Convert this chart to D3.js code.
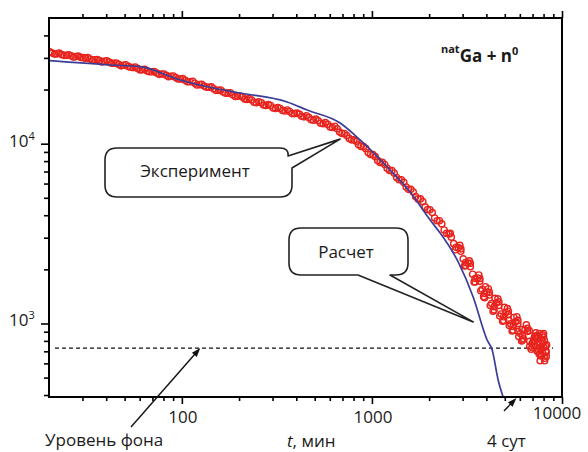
<!DOCTYPE html>
<html>
<head>
<meta charset="utf-8">
<script src="https://cdn.jsdelivr.net/npm/d3@7"></script>
<style>
  body { margin: 0; background: #fff; }
  text { font-family: "Open Sans", "Noto Sans", sans-serif; fill: #1a1a1a; }
</style>
</head>
<body>
<div class="chart"></div>
<script>
// расчет (blue curve)
const calcT = [20.2, 41.9, 60.3, 97.9, 146, 202, 358, 456, 680, 867, 1246, 1588, 2024, 2285, 2843, 3409, 4038, 4292, 4614, 4900];
const calcN = [28940, 27390, 26800, 22600, 20400, 19130, 17050, 15390, 13030, 10490, 7140, 5385, 3760, 3185, 2200, 1404, 809, 712, 485, 390];

// эксперимент (red circles)
const expT = [20.2, 21.4, 22.6, 24.0, 25.4, 26.9, 28.5, 30.2, 32.0, 33.9, 35.9, 38.0, 40.3, 42.7, 45.2, 47.9, 50.7, 53.7, 56.9, 60.3,
  63.8, 67.6, 71.6, 75.9, 80.4, 85.1, 90.2, 95.5, 101, 107, 114, 120, 127, 135, 143, 151, 160, 170, 180, 191,
  202, 214, 226, 240, 254, 269, 285, 302, 320, 339, 359, 380, 403, 427, 452, 479, 507, 537, 569, 603,
  638, 676, 716, 759, 804, 851, 902, 955, 1012, 1072, 1135, 1202, 1274, 1349, 1429, 1514, 1603, 1698, 1799, 1905,
  2018, 2138, 2265, 2399, 2541, 2692, 2851, 3020, 3199, 3388, 3589, 3802, 4027, 4266, 4519, 4786, 5070, 5370, 5689, 6026,
  6383, 6761, 7161, 7586, 7943,
  20.8, 22.0, 23.3, 24.7, 26.2, 27.7, 29.3, 31.1, 32.9, 34.9, 36.9, 39.1, 41.5, 43.9, 46.5, 49.3, 52.2, 55.3, 58.5, 62.0,
  65.7, 69.6, 73.7, 78.1, 82.7, 87.6, 92.8, 98.3, 104, 110, 117, 124, 131, 139, 147, 156, 165, 175, 185, 196,
  208, 220, 233, 247, 262, 277, 293, 311, 329, 349, 369, 391, 415, 439, 465, 493, 522, 553, 586, 620,
  657, 696, 737, 781, 827, 876, 928, 983, 1041, 1103, 1168, 1237, 1311, 1389, 1471, 1558, 1650, 1748, 1852, 1962,
  2078, 2201, 2331, 2469, 2616, 2771, 2935, 3109, 3293, 3488, 3694, 3913, 4145, 4390, 4650, 4925, 5218, 5527, 5854, 6201,
  6569, 6958, 7370, 7762,
  2938, 3112, 3296, 3491, 3698, 3917, 4150, 4395, 4656, 4932, 5224, 5534, 5861, 6209, 6577, 6966, 7379, 7816, 8035, 7586,
  7244, 6761, 6166, 5888, 5248, 7852, 7499, 7079, 8128, 8000, 7674, 8250,
  2585, 2739, 2901, 3073, 3255, 3448, 3652, 3868, 4097, 4340, 4597, 4870, 5158, 5464, 5788, 6131, 6494, 6879, 7287, 7718,
  8084, 8271, 8175, 7898, 7457, 7120, 6722, 6274, 5924, 5592, 5279, 4983, 4705, 4442, 4194, 3959, 3737,
  8200, 8100, 7900, 8300, 7700, 7400, 8000, 7600, 8250, 7200];
const expN = [32400, 31500, 31900, 31000, 31200, 30300, 30700, 30100, 30100, 29200, 29400, 28500, 28900, 28000, 28100, 27100, 27500, 26600, 26700, 25700,
  25900, 25100, 25200, 24300, 24400, 23600, 23800, 22900, 23000, 22100, 22200, 21200, 21400, 20600, 20700, 19800, 19900, 19100, 19200, 18300,
  18400, 17700, 17800, 17000, 17100, 16400, 16500, 15800, 15900, 15300, 15400, 14700, 14800, 14200, 14300, 13600, 13700, 13000, 13100, 12400,
  12500, 11600, 11400, 10700, 10500, 9860, 9640, 8930, 8690, 8050, 7870, 7300, 7080, 6490, 6300, 5740, 5570, 5080, 4930, 4450,
  4290, 3860, 3730, 3310, 3150, 2780, 2640, 2290, 2170, 1880, 1790, 1550, 1490, 1290, 1300, 1130, 1150, 995, 1020, 879,
  923, 796, 841, 733, 776,
  31900, 31600, 31300, 31000, 30800, 30500, 30200, 29900, 29600, 29300, 29000, 28700, 28400, 28000, 27600, 27300, 26900, 26500, 26200, 25800,
  25400, 25100, 24700, 24400, 24000, 23700, 23300, 22900, 22500, 22100, 21700, 21300, 20900, 20600, 20200, 19800, 19400, 19100, 18700, 18400,
  18200, 17600, 17500, 16900, 16900, 16300, 16300, 15700, 15700, 15200, 15100, 14700, 14600, 14100, 14000, 13500, 13400, 12900, 12800, 12300,
  12100, 11400, 11100, 10500, 10300, 9650, 9380, 8710, 8470, 7870, 7660, 7100, 6850, 6300, 6090, 5570, 5390, 4930, 4760, 4300,
  4140, 3730, 3580, 3170, 3020, 2650, 2520, 2180, 2070, 1780, 1720, 1470, 1440, 1240, 1260, 1090, 1120, 962, 998, 854,
  902, 774, 828, 720,
  2600, 2100, 2160, 1700, 1780, 1390, 1490, 1190, 1320, 1040, 1170, 918, 1040, 809, 940, 736, 857, 668, 735, 676,
  851, 746, 925, 902, 1040, 800, 713, 805, 640, 880, 620, 700,
  3170, 2570, 2720, 2090, 2230, 1700, 1860, 1410, 1560, 1170, 1370, 1030, 1210, 908, 1090, 800, 982, 719, 887, 659,
  802, 656, 752, 865, 832, 750, 912, 822, 845, 1080, 975, 1230, 1100, 1380, 1260, 1600, 1520,
  700, 620, 690, 760, 780, 700, 840, 880, 690, 800];

const backgroundLevel = 730;
const fourDays = 5760;

const xMajor = [100, 1000, 10000];
const xMinor = [30, 40, 50, 60, 70, 80, 90, 200, 300, 400, 500, 600, 700, 800, 900, 2000, 3000, 4000, 5000, 6000, 7000, 8000, 9000];
const yMajor = [1000, 10000];
const yMinor = [400, 500, 600, 700, 800, 900, 2000, 3000, 4000, 5000, 6000, 7000, 8000, 9000, 20000, 30000, 40000];

var margin = {top: 18, right: 26, bottom: 55, left: 49},
    width = 588 - margin.left - margin.right,
    height = 452 - margin.top - margin.bottom;

var svg = d3.select(".chart")
    .append("svg")
    .attr("width", 588)
    .attr("height", 452);

var g = svg.append("g")
    .attr("transform", "translate(" + margin.left + "," + margin.top + ")");

var x = d3.scaleLog().domain([20, 10000]).range([0, width]);
var y = d3.scaleLog().domain([390, 50000]).range([height, 0]);

svg.append("clipPath").attr("id", "plot")
    .append("rect").attr("width", width).attr("height", height);

// ticks
function ticks(axis, values, size, transform) {
    var a = g.append("g")
        .attr("transform", transform)
        .call(axis.tickValues(values).tickSize(size).tickFormat(""));
    a.select(".domain").remove();
    a.selectAll("line").attr("stroke", "#000").attr("stroke-width", 1.6);
}
ticks(d3.axisBottom(x), xMinor, 4, "translate(0," + height + ")");
ticks(d3.axisBottom(x), xMajor, 7, "translate(0," + height + ")");
ticks(d3.axisTop(x), xMinor, 4, "");
ticks(d3.axisTop(x), xMajor, 7, "");
ticks(d3.axisLeft(y), yMinor, 5, "");
ticks(d3.axisLeft(y), yMajor, 8, "");

// background level
g.append("line")
    .attr("x1", 6).attr("x2", width - 9)
    .attr("y1", y(backgroundLevel)).attr("y2", y(backgroundLevel))
    .attr("stroke", "#111")
    .attr("stroke-width", 1.3)
    .attr("stroke-dasharray", "4,3");

var plot = g.append("g").attr("clip-path", "url(#plot)");

// experiment
plot.selectAll("circle")
    .data(expT.map((t, i) => ({t: t, n: expN[i]})))
    .enter()
    .append("circle")
    .attr("cx", d => x(d.t))
    .attr("cy", d => y(d.n))
    .attr("r", 3.1)
    .attr("fill", "none")
    .attr("stroke", "#e8231d")
    .attr("stroke-width", 1.4);

// calculation
plot.append("path")
    .datum(calcT.map((t, i) => ({t: t, n: calcN[i]})))
    .attr("fill", "none")
    .attr("stroke", "#3b3d98")
    .attr("stroke-width", 1.7)
    .attr("d", d3.line().x(d => x(d.t)).y(d => y(d.n)).curve(d3.curveMonotoneX));

// frame
g.append("rect")
    .attr("width", width).attr("height", height)
    .attr("fill", "none")
    .attr("stroke", "#000")
    .attr("stroke-width", 2);

// tick labels
g.selectAll(".xlab")
    .data(xMajor)
    .enter()
    .append("text")
    .attr("x", d => x(d) + (d === 10000 ? -5 : 1))
    .attr("y", d => height + (d === 10000 ? 22 : 26))
    .attr("text-anchor", "middle")
    .attr("font-size", "17px")
    .text(d => d);

g.selectAll(".ylab")
    .data(yMajor)
    .enter()
    .append("text")
    .attr("x", -40)
    .attr("y", d => y(d) + 3)
    .attr("font-size", "17px")
    .each(function(d) {
        var text = d3.select(this);
        text.append("tspan").text("10");
        text.append("tspan").attr("font-size", "11px").attr("dy", -7).text(Math.round(Math.log10(d)));
    });

// title
var title = g.append("text")
    .attr("x", 392).attr("y", 35)
    .attr("font-weight", "bold");
title.append("tspan").attr("font-size", "11px").text("nat");
title.append("tspan").attr("font-size", "17px").attr("dy", 9).text("Ga + n");
title.append("tspan").attr("font-size", "11px").attr("dy", -7).text("0");

// axis label
var xl = svg.append("text").attr("x", 287).attr("y", 447).attr("font-size", "17px");
xl.append("tspan").attr("font-style", "italic").text("t");
xl.append("tspan").text(", мин");

// callouts
function callout(box, tip, label, textX, textY) {
    var x0 = box[0], y0 = box[1], x1 = box[2], y1 = box[3], r = 12;
    var p = d3.path();
    p.moveTo(x0 + r, y0);
    if (label === "Эксперимент") {
        p.lineTo(x1 - r, y0);
        p.quadraticCurveTo(x1 - 3, y0, x1 - 4, y0 + 8);
        p.lineTo(tip[0], tip[1]);
        p.lineTo(x1, y0 + 20);
        p.lineTo(x1, y1 - r);
        p.quadraticCurveTo(x1, y1, x1 - r, y1);
    } else {
        p.lineTo(x1 - r, y0);
        p.quadraticCurveTo(x1, y0, x1, y0 + r);
        p.lineTo(x1, y1 - r);
        p.quadraticCurveTo(x1, y1, x1 - r, y1);
        p.lineTo(x1 - 18, y1);
        p.lineTo(tip[0], tip[1]);
        p.lineTo(x1 - 50, y1);
    }
    p.lineTo(x0 + r, y1);
    p.quadraticCurveTo(x0, y1, x0, y1 - r);
    p.lineTo(x0, y0 + r);
    p.quadraticCurveTo(x0, y0, x0 + r, y0);
    p.closePath();
    svg.append("path")
        .attr("d", p.toString())
        .attr("fill", "#fff")
        .attr("stroke", "#222")
        .attr("stroke-width", 1.6)
        .attr("stroke-linejoin", "round");
    svg.append("text")
        .attr("x", textX).attr("y", textY)
        .attr("text-anchor", "middle")
        .attr("font-size", "17px")
        .text(label);
}
callout([105, 148, 292, 197], [margin.left + x(680), margin.top + y(10600)], "Эксперимент", 195, 177);
callout([289, 228, 408, 275], [margin.left + x(3410), margin.top + y(1020)], "Расчет", 346, 258);

// arrows
function arrow(x1, y1, x2, y2) {
    var a = Math.atan2(y2 - y1, x2 - x1), L = 9, w = 3.2;
    svg.append("line")
        .attr("x1", x1).attr("y1", y1)
        .attr("x2", x2 - Math.cos(a) * 6).attr("y2", y2 - Math.sin(a) * 6)
        .attr("stroke", "#111").attr("stroke-width", 1.4);
    var bx = x2 - Math.cos(a) * L, by = y2 - Math.sin(a) * L;
    svg.append("path")
        .attr("d", "M" + x2 + "," + y2 +
            "L" + (bx - Math.sin(a) * w) + "," + (by + Math.cos(a) * w) +
            "L" + (bx + Math.sin(a) * w) + "," + (by - Math.cos(a) * w) + "Z")
        .attr("fill", "#111");
}
arrow(131, 427, margin.left + x(125), margin.top + y(backgroundLevel));
arrow(504, 411, margin.left + x(fourDays), margin.top + height + 1);

svg.append("text").attr("x", 45).attr("y", 446).attr("font-size", "17px").text("Уровень фона");
svg.append("text").attr("x", 487).attr("y", 447).attr("font-size", "17px").text("4 сут");
</script>
</body>
</html>
